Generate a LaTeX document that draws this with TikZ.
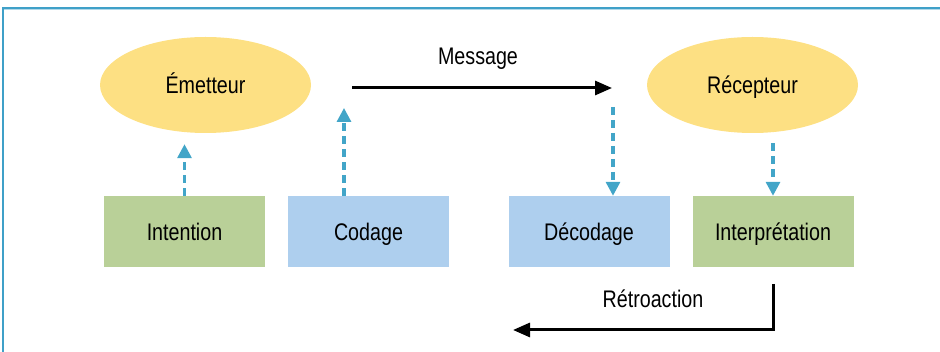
\documentclass[tikz,border=0pt]{standalone}
\usepackage{fontspec}
\setmainfont[FakeStretch=0.82]{Liberation Sans}
\usetikzlibrary{shapes.geometric,arrows.meta}
\definecolor{ellyellow}{HTML}{FDE083}
\definecolor{boxgreen}{HTML}{B9D098}
\definecolor{boxblue}{HTML}{AECFEE}
\definecolor{dashblue}{HTML}{42A5C8}
\definecolor{framecol}{HTML}{3FA0C8}
\tikzset{
  txt/.style={font=\fontsize{24}{27}\selectfont, text height=17.5pt, text depth=0pt},
  actor/.style={txt, ellipse, fill=ellyellow, draw=none, minimum width=211pt, minimum height=96pt, inner sep=0pt},
  stage/.style={txt, rectangle, draw=none, minimum width=161pt, minimum height=71pt, inner sep=0pt},
  greenbox/.style={stage, fill=boxgreen},
  bluebox/.style={stage, fill=boxblue},
  dasharrow/.style={draw=dashblue, line width=3.2pt, dash pattern=on 8pt off 5pt, -{Triangle[length=14pt,width=14pt]}},
  flowarrow/.style={draw=black, line width=3pt, -{Triangle[length=17pt,width=14pt]}},
  lbl/.style={txt, inner sep=0pt}
}
\begin{document}
\begin{tikzpicture}[x=1pt,y=-1pt]
\useasboundingbox (0,0) rectangle (940,352);
\draw[framecol, line width=1.5pt] (3,352) -- (3,8) -- (940,8);
\draw[framecol!40, line width=1pt] (4,10) -- (940,10);

\node[actor] (emet) at (205.5,85) {Émetteur};
\node[actor] (recep) at (752.5,85) {Récepteur};

\node[greenbox] (intent) at (184.5,231.5) {Intention};
\node[bluebox] (codage) at (368.5,231.5) {Codage};
\node[bluebox] (decod) at (589,231.5) {Décodage};
\node[greenbox] (interp) at (773,231.5) {Interprétation};

\coordinate (codtip) at (344,108);
\coordinate (msgstart) at (352,88);
\coordinate (msgend) at (612,88);
\coordinate (decstart) at (613,107);
\coordinate (fbtop) at (773,284);
\coordinate (fbcorner) at (773,330);
\coordinate (fbend) at (513,330);

\draw[dasharrow] (intent.north) -- ([yshift=-11pt]intent.north |- emet.south);
\draw[dasharrow] (codage.north -| codtip) -- (codtip);
\draw[dasharrow] (decstart) -- (decstart |- decod.north);
\draw[dasharrow] ([yshift=-10pt]interp.north |- recep.south) -- (interp.north);

\draw[flowarrow] (msgstart) -- (msgend);
\node[lbl] (msglbl) at (478,56) {Message};

\draw[flowarrow] (fbtop) -- (fbcorner) -- (fbend);
\node[lbl] (fblbl) at (653,299) {Rétroaction};
\end{tikzpicture}
\end{document}
